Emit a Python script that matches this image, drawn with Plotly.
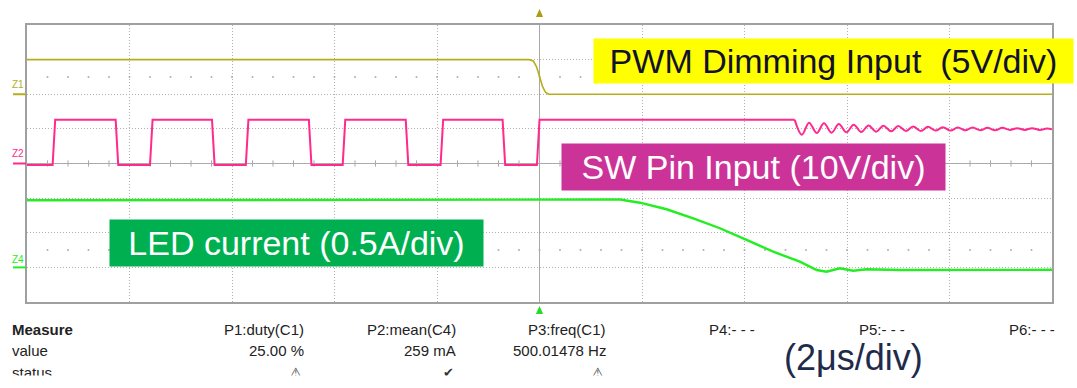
import plotly.graph_objects as go

# time base: 2 us/div, 10 divisions, trigger in the middle
pwm_t = [-10.0, -0.20, -0.12, -0.06, 0.0, 0.06, 0.12, 0.18, 10.0]
pwm_v = [5.0, 5.0, 4.8, 4.0, 2.6, 1.1, 0.25, 0.0, 0.0]

# SW pin: switching pulses, then the ringing after the switch stops
sw_t = [-10.0, -9.50, -9.45, -8.27, -8.22, -7.60, -7.55, -6.39, -6.34,
        -5.73, -5.68, -4.50, -4.45, -3.84, -3.79, -2.61, -2.56, -1.93,
        -1.88, -0.72, -0.67, -0.05, 0.0, 4.98]
sw_v = [-0.4, -0.4, 12.6, 12.6, -0.4, -0.4, 12.6, 12.6, -0.4,
        -0.4, 12.6, 12.6, -0.4, -0.4, 12.6, 12.6, -0.4, -0.4,
        12.6, 12.6, -0.4, -0.4, 12.6, 12.6]
ring_t = [4.98, 5.12, 5.26, 5.41, 5.55, 5.70, 5.84, 5.99, 6.13, 6.28, 6.42,
          6.57, 6.71, 6.86, 7.00, 7.15, 7.29, 7.44, 7.58, 7.73, 7.87,
          8.02, 8.16, 8.31, 8.45, 8.60, 8.74, 8.89, 9.03, 9.18, 9.32,
          9.47, 9.61, 9.76, 9.90, 10.0]
ring_v = [12.6, 8.3, 11.8, 8.8, 11.6, 8.9, 11.4, 9.0, 11.2, 9.1, 11.0,
          9.2, 10.9, 9.3, 10.8, 9.4, 10.7, 9.4, 10.6, 9.5, 10.5,
          9.5, 10.4, 9.6, 10.4, 9.6, 10.3, 9.6, 10.3, 9.7, 10.2,
          9.7, 10.2, 9.7, 10.1, 9.9]

led_t = [-10.0, 1.2, 1.57, 1.96, 2.48, 3.00, 3.52, 4.04, 4.56, 5.08,
         5.41, 5.60, 5.86, 6.12, 6.38, 7.03, 10.0]
led_i = [0.97, 0.98, 0.98, 0.934, 0.839, 0.709, 0.565, 0.396, 0.227, 0.082,
         -0.038, -0.062, -0.013, -0.048, -0.027, -0.038, -0.035]

measure_names = ["P1:duty(C1)", "P2:mean(C4)", "P3:freq(C1)", "P4:- - -", "P5:- - -", "P6:- - -"]
measure_values = ["25.00 %", "259 mA", "500.01478 Hz", "", "", ""]
measure_status = ["⚠", "✔", "⚠", "", "", ""]

C_PWM = "#b8ad1c"
C_SW = "#ff2a8e"
C_LED = "#22ee22"
GRID = "#b0b0b0"
FONT = "Liberation Sans, Arial, sans-serif"

# plot area in pixels
L, R, T, B = 27, 1052, 25, 302


def px(x):
    return (x - L) / (R - L)


def py(y):
    return (B - y) / (B - T)


fig = go.Figure()
fig.add_trace(go.Scatter(x=pwm_t, y=pwm_v, mode="lines", yaxis="y",
                         line=dict(color=C_PWM, width=1.6), hoverinfo="skip"))
fig.add_trace(go.Scatter(x=sw_t, y=sw_v, mode="lines", yaxis="y2",
                         line=dict(color=C_SW, width=2), hoverinfo="skip"))
fig.add_trace(go.Scatter(x=ring_t, y=ring_v, mode="lines", yaxis="y2",
                         line=dict(color=C_SW, width=2, shape="spline", smoothing=1),
                         hoverinfo="skip"))
fig.add_trace(go.Scatter(x=led_t, y=led_i, mode="lines", yaxis="y3",
                         line=dict(color=C_LED, width=2.4), hoverinfo="skip"))

shapes = []
# center horizontal line
shapes.append(dict(type="line", xref="paper", yref="y", x0=0, x1=1, y0=-10, y1=-10,
                   line=dict(color="#a8a8a8", width=1.2), layer="below"))
for k in range(-24, 25):
    t = 0.4 * k
    if k % 5 != 0:
        shapes.append(dict(type="line", xref="x", yref="y", x0=t, x1=t, y0=-10.45, y1=-9.55,
                           line=dict(color="#a8a8a8", width=1), layer="below"))
    for yd in (2.5, -22.5):
        shapes.append(dict(type="circle", xref="x", yref="y", x0=t - 0.02, x1=t + 0.02,
                           y0=yd - 0.15, y1=yd + 0.15, fillcolor="#b0b0b0",
                           line=dict(width=0), layer="below"))

# channel ground markers on the left
for ypx, col in ((94.25, C_PWM), (163.5, C_SW), (267.4, C_LED)):
    shapes.append(dict(type="line", xref="paper", yref="paper", x0=px(13), x1=px(26),
                       y0=py(ypx), y1=py(ypx), line=dict(color=col, width=2)))

# trigger markers (top and bottom of the screen)
dx = 0.07
for ytop, ybot, col in ((9, 17, "#a89e10"), (306, 314, "#22dd22")):
    shapes.append(dict(type="path", xref="x", yref="paper",
                       path="M %f,%f L %f,%f L %f,%f Z" % (-dx, py(ybot), dx, py(ybot), 0, py(ytop)),
                       fillcolor=col, line=dict(width=0)))

ann = []
for txt, ypx, col in (("Z1", 84, C_PWM), ("Z2", 153, C_SW), ("Z4", 259, C_LED)):
    ann.append(dict(text=txt, x=px(18), y=py(ypx), xref="paper", yref="paper",
                    xanchor="center", yanchor="middle",
                    showarrow=False, font=dict(family=FONT, size=10, color=col)))

# labels
for txt, box, bg, fc in (("PWM Dimming Input  (5V/div)", (594, 1073, 39, 83), "#ffff00", "#12122e"),
                         ("SW Pin Input (10V/div)", (562, 945, 144, 190), "#cc3399", "white"),
                         ("LED current (0.5A/div)", (110, 483, 220, 266), "#00b050", "white")):
    x0, x1, y0, y1 = box
    ann.append(dict(text=txt, x=px((x0 + x1) / 2), y=py((y0 + y1) / 2), xref="paper", yref="paper",
                    xanchor="center", yanchor="middle",
                    showarrow=False, width=x1 - x0, height=y1 - y0, bgcolor=bg, borderpad=0,
                    align="center", valign="middle",
                    font=dict(family=FONT, size=34, color=fc)))

ann.append(dict(text="(2μs/div)", x=px(782), y=py(357), xref="paper", yref="paper",
                xanchor="left", yanchor="middle", showarrow=False,
                font=dict(family=FONT, size=36, color="#1f2b4b")))

# measurement table
small = dict(family=FONT, size=15, color="#222222")
for txt, ypx, bold in (("Measure", 329, True), ("value", 350, False), ("status", 372, False)):
    ann.append(dict(text="<b>%s</b>" % txt if bold else txt, x=px(10), y=py(ypx),
                    xref="paper", yref="paper", xanchor="left", yanchor="middle",
                    showarrow=False, font=small))
col_right = [306, 458, 608, 757, 907, 1057]
for name, val, st, xr in zip(measure_names, measure_values, measure_status, col_right):
    ann.append(dict(text=name, x=px(xr), y=py(329), xref="paper", yref="paper",
                    xanchor="right", yanchor="middle", showarrow=False, font=small))
    if val:
        ann.append(dict(text=val, x=px(xr), y=py(350), xref="paper", yref="paper",
                        xanchor="right", yanchor="middle", showarrow=False, font=small))
    if st:
        ann.append(dict(text=st, x=px(xr - 10), y=py(372), xref="paper", yref="paper",
                        xanchor="center", yanchor="middle", showarrow=False,
                        font=dict(family="DejaVu Sans", size=13, color="#333333")))
# cut-off bottom strip of the table
ann.append(dict(text="&nbsp;", x=px(0), y=py(375), xref="paper", yref="paper", xanchor="left",
                yanchor="top", showarrow=False, width=740, height=16, bgcolor="white", borderpad=0))

axis_common = dict(showgrid=True, gridcolor=GRID, griddash="1px,2px", gridwidth=1,
                   showticklabels=False, ticks="", showline=True, linecolor="#a0a0a0",
                   linewidth=1.5, mirror=True)
fig.update_layout(
    width=1077, height=388,
    margin=dict(l=L, r=1077 - R, t=T, b=388 - B, pad=0),
    paper_bgcolor="white", plot_bgcolor="white",
    showlegend=False, hovermode=False,
    xaxis=dict(range=[-10, 10], tick0=-10, dtick=2, zeroline=True,
               zerolinecolor="#a8a8a8", zerolinewidth=1.2, **axis_common),
    yaxis=dict(range=[-30, 10], tick0=-30, dtick=5, zeroline=False, **axis_common),
    yaxis2=dict(range=[-40, 40], overlaying="y", visible=False),
    yaxis3=dict(range=[-0.5, 3.5], overlaying="y", visible=False),
    shapes=shapes, annotations=ann,
)

fig.write_html("out.html", config={"displayModeBar": False},
               post_script="document.body.style.margin='0';")
